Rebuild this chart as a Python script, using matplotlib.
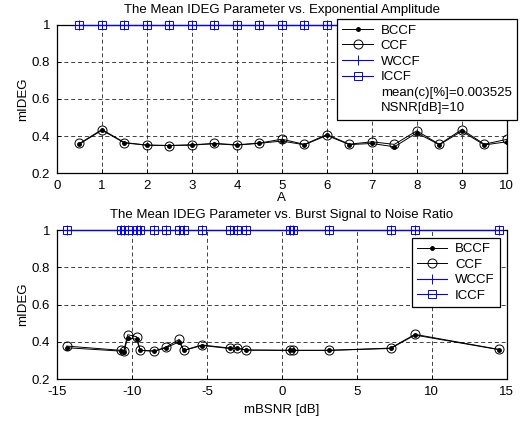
import matplotlib
matplotlib.use("Agg")
import matplotlib.pyplot as plt
from matplotlib.lines import Line2D

plt.rcParams['font.family'] = ['Liberation Sans', 'DejaVu Sans']
plt.rcParams['font.size'] = 9.5
plt.rcParams['axes.unicode_minus'] = False

# top panel: mIDEG vs exponential amplitude A
amp = [0.5, 1, 1.5, 2, 2.5, 3, 3.5, 4, 4.5, 5,
       5.5, 6, 6.5, 7, 7.5, 8, 8.5, 9, 9.5, 10]
amp_bccf = [0.358, 0.432, 0.364, 0.352, 0.350, 0.352, 0.360, 0.352, 0.362, 0.374,
            0.354, 0.404, 0.355, 0.361, 0.343, 0.418, 0.354, 0.427, 0.353, 0.370]
amp_ccf = [0.361, 0.436, 0.366, 0.352, 0.350, 0.354, 0.361, 0.354, 0.363, 0.384,
           0.356, 0.409, 0.357, 0.370, 0.356, 0.429, 0.356, 0.436, 0.357, 0.383]
amp_wccf = [1.0] * len(amp)
amp_iccf = [1.0] * len(amp)

# bottom panel: mIDEG vs burst SNR
snr = [-14.35, -10.74, -10.55, -10.28, -9.69, -9.45, -8.50, -7.72, -6.85, -6.55,
       -5.33, -3.47, -2.98, -2.37, 0.53, 0.73, 3.15, 7.25, 8.87, 14.47]
snr_bccf = [0.368, 0.350, 0.343, 0.422, 0.413, 0.354, 0.350, 0.368, 0.400, 0.354,
            0.380, 0.364, 0.364, 0.355, 0.354, 0.354, 0.354, 0.364, 0.436, 0.358]
snr_ccf = [0.377, 0.354, 0.350, 0.438, 0.427, 0.354, 0.350, 0.372, 0.413, 0.354,
           0.383, 0.366, 0.366, 0.356, 0.354, 0.354, 0.354, 0.366, 0.440, 0.359]
snr_wccf = [1.0] * len(snr)
snr_iccf = [1.0] * len(snr)

labels = ["BCCF", "CCF", "WCCF", "ICCF"]
extra_text = ["mean(c)[%]=0.003525", "NSNR[dB]=10"]

fig = plt.figure(figsize=(5.2, 4.23), dpi=100)
ax1 = fig.add_axes([0.1096, 0.590, 0.865, 0.352])
ax2 = fig.add_axes([0.1096, 0.104, 0.865, 0.352])


def draw(ax, x, bccf, ccf, wccf, iccf):
    ax.plot(x, bccf, color='black', lw=0.7, marker='.', ms=5, label=labels[0])
    ax.plot(x, ccf, color='black', lw=0.7, marker='o', ms=6.5, mfc='none', mew=0.7,
            label=labels[1])
    ax.plot(x, wccf, color='blue', lw=0.8, marker='+', ms=6.5, mew=0.7, label=labels[2],
            clip_on=False, zorder=3)
    ax.plot(x, iccf, color='blue', lw=0.8, marker='s', ms=6, mfc='none', mew=0.7,
            label=labels[3], clip_on=False, zorder=3)
    ax.set_ylim(0.2, 1)
    ax.set_yticks([0.2, 0.4, 0.6, 0.8, 1])
    ax.set_yticklabels(["0.2", "0.4", "0.6", "0.8", "1"])
    ax.grid(True, color='#222222', ls=(0, (4.8, 3.4)), lw=0.6)
    ax.tick_params(direction='in', length=3, width=0.6, pad=5, colors='black')
    for s in ax.spines.values():
        s.set_linewidth(0.9)
    ax.set_ylabel("mIDEG", labelpad=2)


leg_kw = dict(loc='upper right', bbox_transform=fig.transFigure, fancybox=False,
              framealpha=1, edgecolor='black', borderaxespad=0, handlelength=2.3,
              labelspacing=0.25, borderpad=0.4, handletextpad=0.6, fontsize=9.5)

draw(ax1, amp, amp_bccf, amp_ccf, amp_wccf, amp_iccf)
ax1.set_xlim(0, 10)
ax1.set_xticks(range(0, 11))
ax1.set_xlabel("A", labelpad=0)
ax1.set_title("The Mean IDEG Parameter vs. Exponential Amplitude", fontsize=9.5, pad=8.5)

h, l = ax1.get_legend_handles_labels()
for t in extra_text:
    h.append(Line2D([], [], color='none'))
    l.append(t)
leg1 = ax1.legend(h, l, bbox_to_anchor=(0.994, 0.955), **leg_kw)
leg1.get_frame().set_linewidth(0.9)
leg1.set_zorder(5)

draw(ax2, snr, snr_bccf, snr_ccf, snr_wccf, snr_iccf)
ax2.set_xlim(-15, 15)
ax2.set_xticks([-15, -10, -5, 0, 5, 10, 15])
ax2.set_xlabel("mBSNR [dB]", labelpad=4)
ax2.set_title("The Mean IDEG Parameter vs. Burst Signal to Noise Ratio", fontsize=9.5, pad=8.5)
leg2 = ax2.legend(bbox_to_anchor=(0.9615, 0.438), **leg_kw)
leg2.get_frame().set_linewidth(0.9)
leg2.set_zorder(5)

fig.savefig("out.png", dpi=100)
